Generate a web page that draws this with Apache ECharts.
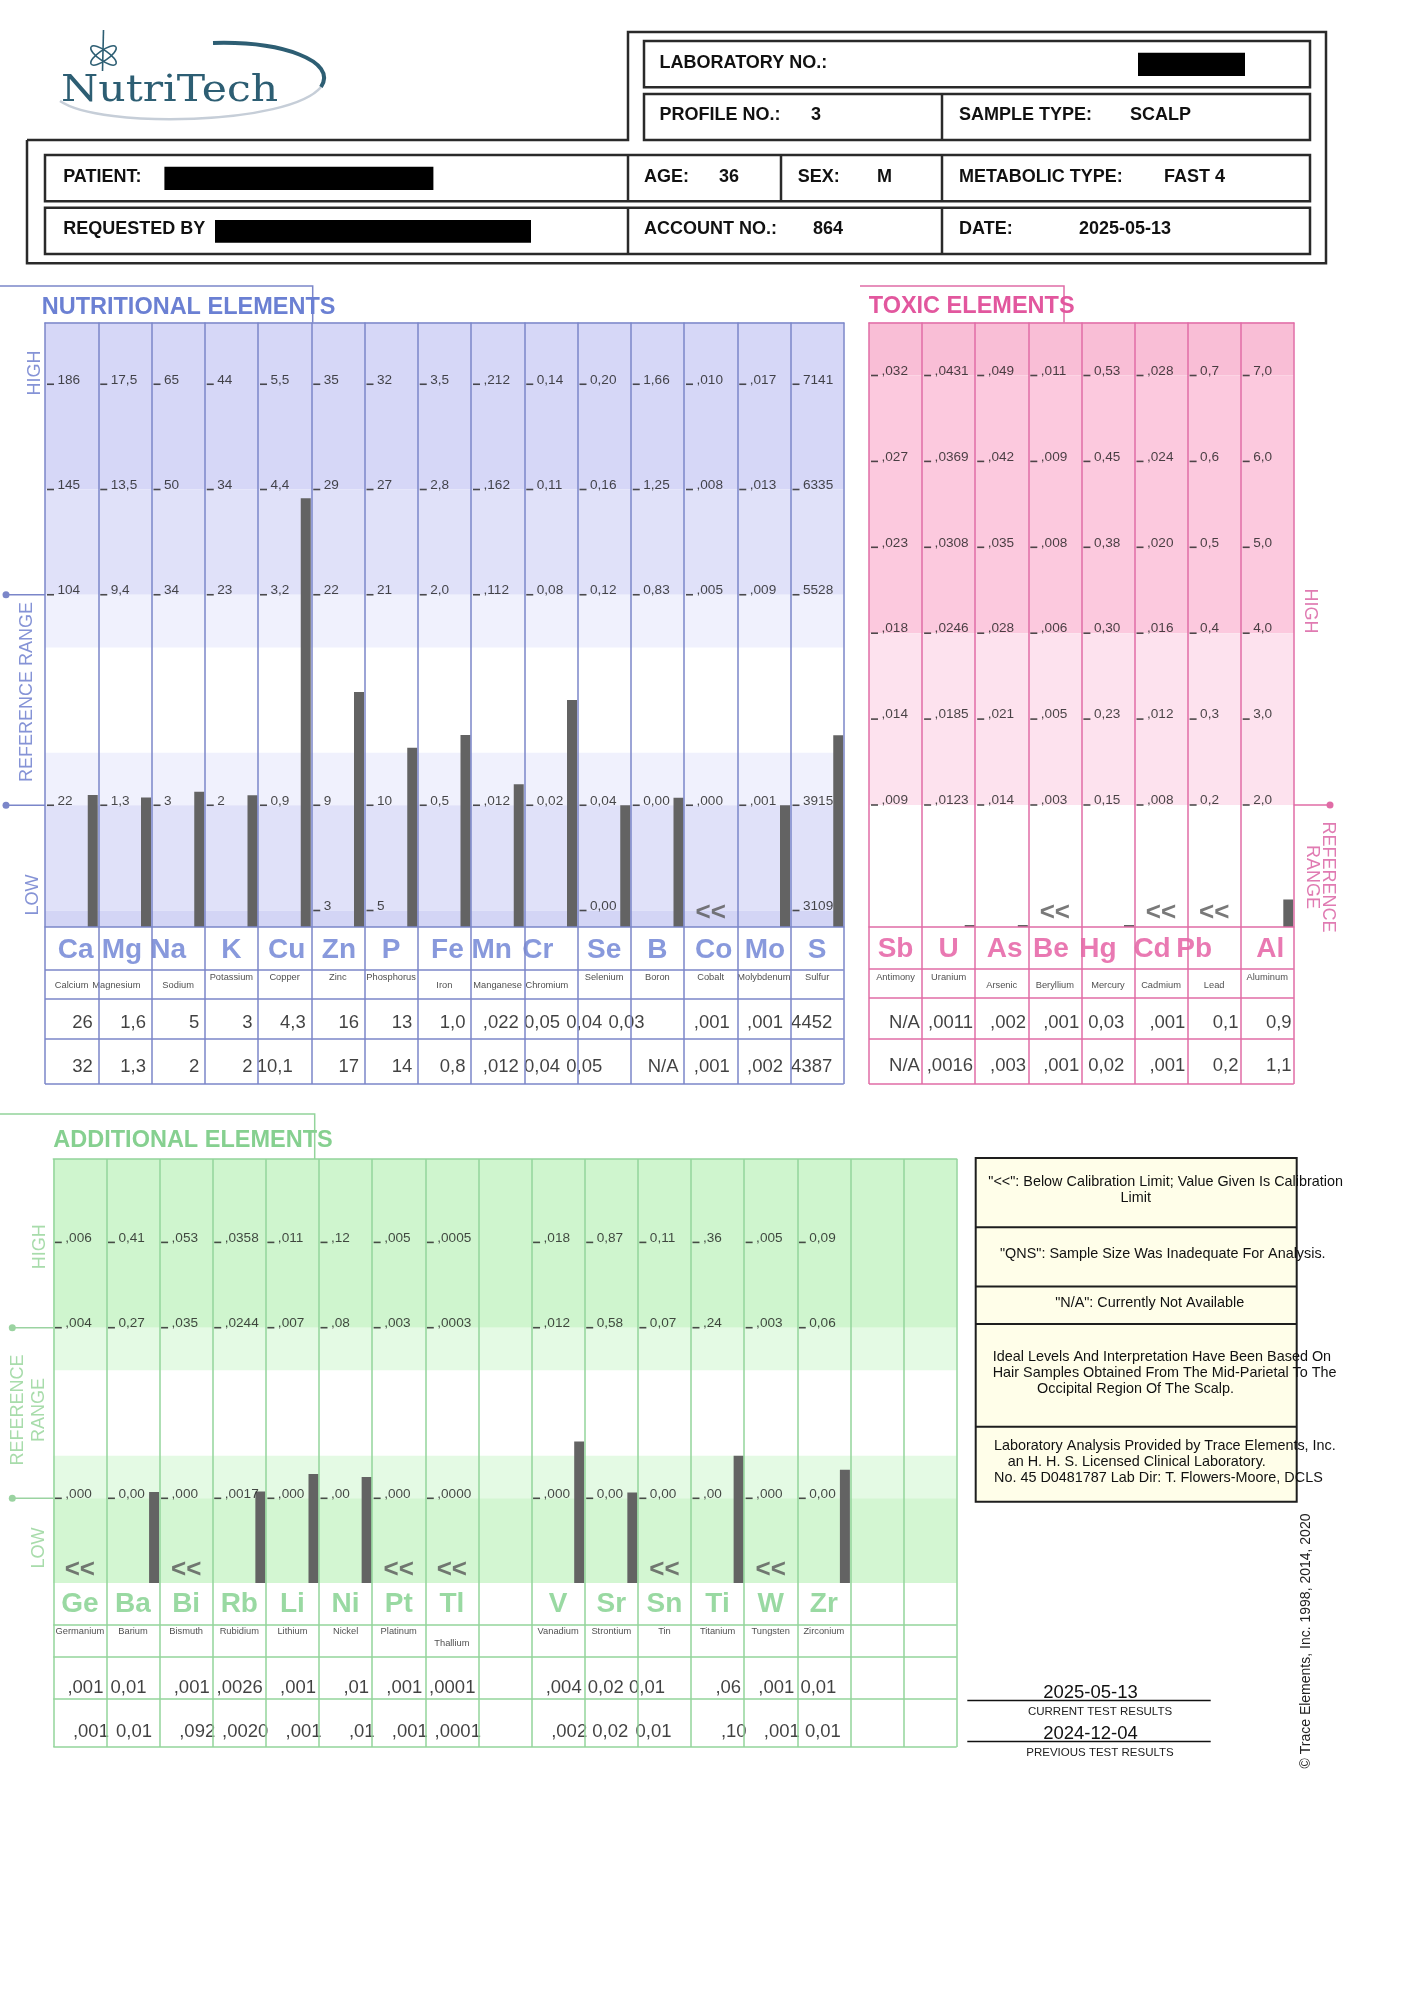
<!DOCTYPE html>
<html>
<head>
<meta charset="utf-8">
<title>Hair Tissue Mineral Analysis</title>
<script src="https://cdn.jsdelivr.net/npm/echarts@6.0.0/dist/echarts.min.js"></script>
<style>
html,body{margin:0;padding:0;background:#ffffff;}
#chart{width:1414px;height:2000px;}
</style>
</head>
<body>
<div id="chart"></div>
<script>
// ================= DATA =================
// Header
const profileNo = '3', sampleType = 'SCALP', patientAge = '36', patientSex = 'M';
const metabolicType = 'FAST 4', accountNo = '864', reportDate = '2025-05-13';
const currentTestDate = '2025-05-13', previousTestDate = '2024-12-04';

// Nutritional elements (tick labels from the lowest graph line to the highest)
const nutriSymbols = ['Ca','Mg','Na','K','Cu','Zn','P','Fe','Mn','Cr','Se','B','Co','Mo','S'];
const nutriNames = ['Calcium','Magnesium','Sodium','Potassium','Copper','Zinc','Phosphorus','Iron','Manganese','Chromium','Selenium','Boron','Cobalt','Molybdenum','Sulfur'];
const nutriTicks = [
  ['', '22', '', '104', '145', '186'],
  ['', '1,3', '', '9,4', '13,5', '17,5'],
  ['', '3', '', '34', '50', '65'],
  ['', '2', '', '23', '34', '44'],
  ['', '0,9', '', '3,2', '4,4', '5,5'],
  ['3', '9', '', '22', '29', '35'],
  ['5', '10', '', '21', '27', '32'],
  ['', '0,5', '', '2,0', '2,8', '3,5'],
  ['', ',012', '', ',112', ',162', ',212'],
  ['', '0,02', '', '0,08', '0,11', '0,14'],
  ['0,00', '0,04', '', '0,12', '0,16', '0,20'],
  ['', '0,00', '', '0,83', '1,25', '1,66'],
  ['', ',000', '', ',005', ',008', ',010'],
  ['', ',001', '', ',009', ',013', ',017'],
  ['3109', '3915', '', '5528', '6335', '7141']
];
const nutriCurrent = ['26','1,6','5','3','4,3','16','13','1,0',',022','0,05','0,04','0,03',',001',',001','4452'];
const nutriPrevious = ['32','1,3','2','2','10,1','17','14','0,8',',012','0,04','0,05','N/A',',001',',002','4387'];
const nutriBelowLimit = ['Co'];

// Toxic elements
const toxicSymbols = ['Sb','U','As','Be','Hg','Cd','Pb','Al'];
const toxicNames = ['Antimony','Uranium','Arsenic','Beryllium','Mercury','Cadmium','Lead','Aluminum'];
const toxicTicks = [
  [',009', ',014', ',018', ',023', ',027', ',032'],
  [',0123', ',0185', ',0246', ',0308', ',0369', ',0431'],
  [',014', ',021', ',028', ',035', ',042', ',049'],
  [',003', ',005', ',006', ',008', ',009', ',011'],
  ['0,15', '0,23', '0,30', '0,38', '0,45', '0,53'],
  [',008', ',012', ',016', ',020', ',024', ',028'],
  ['0,2', '0,3', '0,4', '0,5', '0,6', '0,7'],
  ['2,0', '3,0', '4,0', '5,0', '6,0', '7,0']
];
const toxicCurrent = ['N/A',',0011',',002',',001','0,03',',001','0,1','0,9'];
const toxicPrevious = ['N/A',',0016',',003',',001','0,02',',001','0,2','1,1'];
const toxicBelowLimit = ['Be','Cd','Pb'];

// Additional elements
const addSymbols = ['Ge','Ba','Bi','Rb','Li','Ni','Pt','Tl','','V','Sr','Sn','Ti','W','Zr','',''];
const addNames = ['Germanium','Barium','Bismuth','Rubidium','Lithium','Nickel','Platinum','Thallium','','Vanadium','Strontium','Tin','Titanium','Tungsten','Zirconium','',''];
const addTicks = [
  [',000', '', ',004', ',006'],
  ['0,00', '', '0,27', '0,41'],
  [',000', '', ',035', ',053'],
  [',0017', '', ',0244', ',0358'],
  [',000', '', ',007', ',011'],
  [',00', '', ',08', ',12'],
  [',000', '', ',003', ',005'],
  [',0000', '', ',0003', ',0005'],
  ['', '', '', ''],
  [',000', '', ',012', ',018'],
  ['0,00', '', '0,58', '0,87'],
  ['0,00', '', '0,07', '0,11'],
  [',00', '', ',24', ',36'],
  [',000', '', ',003', ',005'],
  ['0,00', '', '0,06', '0,09'],
  ['', '', '', ''],
  ['', '', '', '']
];
const addCurrent = [',001','0,01',',001',',0026',',001',',01',',001',',0001','',',004','0,02','0,01',',06',',001','0,01','',''];
const addPrevious = [',001','0,01',',092',',0020',',001',',01',',001',',0001','',',002','0,02','0,01',',10',',001','0,01','',''];
const addBelowLimit = ['Ge','Bi','Pt','Tl','Sn','W'];

// ================= LAYOUT / STYLE =================
const SANS = '"Liberation Sans", Arial, Helvetica, sans-serif';
const font = (size, weight) => (weight ? weight + ' ' : '') + size + 'px ' + SANS;

function num(s) { return s ? parseFloat(String(s).replace(',', '.')) : NaN; }
function levelOf(ticks, v) {
  const pts = [];
  ticks.forEach((t, k) => { if (t !== '') pts.push([k, num(t)]); });
  let a = pts[0], b = pts[1];
  for (let j = 0; j < pts.length - 1; j++) { if (v >= pts[j][1]) { a = pts[j]; b = pts[j + 1]; } }
  return a[0] + (v - a[1]) / (b[1] - a[1]) * (b[0] - a[0]);
}

const NUT = {
  left: 45, top: 322.6, colW: 53.25, plotH: 604.4, base: 16.5, step: 105.25, tableH: 157,
  line: '#7b86c9', sym: '#6a80d3', tableTopLine: true,
  bands: [[4, 'top', '#d6d7f7'], [3, 4, '#e0e1f9'], [2.5, 3, '#f0f1fd'], [1, 1.5, '#f0f1fd'], [0, 1, '#e0e1f9'], ['bot', 0, '#d3d5f5']],
  tableLines: [42.3, 71.3, 111.3, 157], symY: 23, nameY: [50.7, 58.7], curY: 96.3, prevY: 139.7,
  padCur: 5.5, padPrev: 5.5, tickDx: 5.5, lowMarkY: 14,
  symDx: [4, -3, -10, 0, 2, 1, 0, 3, -6, -13, 0, 0, 3, 1, 0],
  nameDx: [0, -8.5, 0, 0, 0, 0, 0, 0, 0, -4, 0, 0, 0, 0, 0],
  nameLow: [1, 1, 1, 0, 0, 0, 0, 1, 1, 1, 0, 0, 0, 0, 0],
  curDx: [0, 0, 0, 0, 0, 0, 0, 0, 0, -12, -23, -34, -2, -2, -6],
  prevDx: [0, 0, 0, 0, -13, 0, 0, 0, 0, -12, -23, 0, -2, -2, -6]
};
const TOX = {
  left: 869, top: 322.6, colW: 53.1, plotH: 604.4, base: 122, step: 85.9, tableH: 157,
  line: '#e06ca6', sym: '#e3579f', tableTopLine: true,
  bands: [[5, 'top', '#f9bed6'], [2, 5, '#fcc9de'], [0, 2, '#fde2ee']],
  tableLines: [42.2, 71, 111.4, 157], symY: 22.4, nameY: [50.2, 58.6], curY: 95.7, prevY: 139.2,
  padCur: 2.2, padPrev: 2.2, tickDx: 5.5, lowMarkY: 14,
  symDx: [0, 0, 3, -4, -10, -9, -20, 3],
  nameDx: [0, 0, 0, 0, 0, 0, 0, 0],
  nameLow: [0, 0, 1, 1, 1, 1, 1, 0],
  curDx: [0, 0, 0, 0, -8, 0, 0, 0],
  prevDx: [0, 0, 0, 0, -8, 0, 0, 0]
};
const ADD = {
  left: 53.3, top: 1159, colW: 53.14, plotH: 424, base: 84.7, step: 85.3, tableH: 164,
  line: '#93d49b', sym: '#80cf8b', tableTopLine: false,
  bands: [[2, 'top', '#cff5ce'], [1.5, 2, '#e4fae4'], [0, 0.5, '#e4fae4'], ['bot', 0, '#d3f6d2']],
  tableLines: [42, 73.4, 115.5, 164], symY: 21, nameY: [48, 60], curY: 105, prevY: 148.5,
  padCur: 3, padPrev: -2.5, tickDx: 5, lowMarkY: 13,
  symDx: new Array(17).fill(0),
  nameDx: new Array(17).fill(0),
  nameLow: [0, 0, 0, 0, 0, 0, 0, 1, 0, 0, 0, 0, 0, 0, 0, 0, 0],
  curDx: [0, -10, 0, 0, 0, 0, 0, 0, 0, 0, -11, -23, 0, 0, -11, 0, 0],
  prevDx: [0, -10, 0, 0, 0, 0, 0, 0, 0, 0, -12, -22, 0, 0, -12, 0, 0]
};

const grids = [], xAxes = [], yAxes = [], series = [];

function addSection(cfg, d) {
  const n = d.symbols.length;
  const W = cfg.colW * n;
  const gi = grids.length;
  const px = k => cfg.base + k * cfg.step;
  const bandY = v => v === 'top' ? cfg.plotH : (v === 'bot' ? 0 : px(v));
  const ls = { color: cfg.line, width: 1.5 };
  const gb = { containLabel: false, outerBoundsMode: 'none', show: false };
  grids.push(Object.assign({ left: cfg.left, top: cfg.top, width: W, height: cfg.plotH }, gb));
  grids.push(Object.assign({ left: cfg.left, top: cfg.top + cfg.plotH, width: W, height: cfg.tableH }, gb));
  [0, 1].forEach(j => {
    xAxes.push({
      type: 'value', gridIndex: gi + j, min: 0, max: n, interval: 1, position: 'top', z: 4,
      axisLine: { show: j === 0 || cfg.tableTopLine, onZero: false, lineStyle: ls },
      axisTick: { show: false }, axisLabel: { show: false },
      splitLine: { show: true, lineStyle: ls }
    });
  });
  yAxes.push({ type: 'value', gridIndex: gi, min: 0, max: cfg.plotH, show: false, splitLine: { show: false } });
  yAxes.push({ type: 'value', gridIndex: gi + 1, min: 0, max: cfg.tableH, inverse: true, show: false, splitLine: { show: false } });

  // Tick marks + tick labels, plus background bands
  const tickData = [];
  d.ticks.forEach((col, i) => col.forEach((t, k) => {
    if (t !== '') tickData.push({ name: t, value: [i + cfg.tickDx / cfg.colW, px(k)] });
  }));
  series.push({
    type: 'scatter', xAxisIndex: gi, yAxisIndex: gi, z: 3, silent: true,
    symbol: 'rect', symbolSize: [7, 1.6], itemStyle: { color: '#222222' },
    label: { show: true, position: 'right', distance: 3.5, offset: [0, -4.5], formatter: '{b}', fontSize: 13.6, fontFamily: SANS, color: '#1a1a1a' },
    data: tickData,
    markArea: {
      silent: true, label: { show: false },
      data: cfg.bands.map(b => [{ yAxis: bandY(b[0]), itemStyle: { color: b[2] } }, { yAxis: bandY(b[1]) }])
    }
  });

  // Bars for current results
  const barData = [];
  d.current.forEach((s, i) => {
    const v = num(s);
    if (!d.symbols[i] || d.below.indexOf(d.symbols[i]) >= 0 || isNaN(v)) return;
    const h = Math.max(2, Math.min(cfg.plotH, px(levelOf(d.ticks[i], v))));
    barData.push([i + 1 - 5.5 / cfg.colW, h]);
  });
  series.push({ type: 'bar', xAxisIndex: gi, yAxisIndex: gi, z: 2, silent: true, barWidth: 10, itemStyle: { color: '#636363' }, data: barData });

  // Below calibration markers
  series.push({
    type: 'scatter', xAxisIndex: gi, yAxisIndex: gi, z: 3, silent: true, symbolSize: 0,
    label: { show: true, position: 'inside', formatter: '<<', fontSize: 26, fontWeight: 'bold', fontFamily: SANS, color: '#585858' },
    data: d.symbols.map((s, i) => (s && d.below.indexOf(s) >= 0) ? [i + 0.5, cfg.lowMarkY] : null).filter(Boolean)
  });

  // Table: symbols (with row lines)
  const tx = (i, dx) => i + 0.5 + (dx || 0) / cfg.colW;
  series.push({
    type: 'scatter', xAxisIndex: gi + 1, yAxisIndex: gi + 1, z: 3, silent: true, symbolSize: 0,
    label: { show: true, position: 'inside', formatter: '{b}', fontSize: 28, fontWeight: 'bold', fontFamily: SANS, color: cfg.sym },
    data: d.symbols.map((s, i) => s ? { name: s, value: [tx(i, cfg.symDx[i]), cfg.symY] } : null).filter(Boolean),
    markLine: {
      silent: true, symbol: ['none', 'none'], label: { show: false },
      lineStyle: { color: cfg.line, width: 1.5, type: 'solid' },
      data: cfg.tableLines.map(y => ({ yAxis: y }))
    }
  });
  // names
  series.push({
    type: 'scatter', xAxisIndex: gi + 1, yAxisIndex: gi + 1, z: 3, silent: true, symbolSize: 0,
    label: { show: true, position: 'inside', formatter: '{b}', fontSize: 9.3, fontFamily: SANS, color: '#222222' },
    data: d.names.map((s, i) => s ? { name: s, value: [tx(i, cfg.nameDx[i]), cfg.nameY[cfg.nameLow[i] ? 1 : 0]] } : null).filter(Boolean)
  });
  // current & previous results
  [[d.current, cfg.curY, cfg.padCur, cfg.curDx], [d.previous, cfg.prevY, cfg.padPrev, cfg.prevDx]].forEach(r => {
    series.push({
      type: 'scatter', xAxisIndex: gi + 1, yAxisIndex: gi + 1, z: 3, silent: true, symbolSize: 0,
      label: { show: true, position: 'inside', align: 'right', formatter: '{b}', fontSize: 18.5, fontFamily: SANS, color: '#111111' },
      data: r[0].map((s, i) => s ? { name: s, value: [i + 1 + (r[3][i] - r[2]) / cfg.colW, r[1]] } : null).filter(Boolean)
    });
  });
}

addSection(NUT, { symbols: nutriSymbols, names: nutriNames, ticks: nutriTicks, current: nutriCurrent, previous: nutriPrevious, below: nutriBelowLimit });
addSection(TOX, { symbols: toxicSymbols, names: toxicNames, ticks: toxicTicks, current: toxicCurrent, previous: toxicPrevious, below: toxicBelowLimit });
addSection(ADD, { symbols: addSymbols, names: addNames, ticks: addTicks, current: addCurrent, previous: addPrevious, below: addBelowLimit });

// ================= GRAPHIC (page furniture) =================
const G = [];
function textEl(text, x, y, f, fill, align, rot) {
  return { type: 'text', x: x, y: y, rotation: rot || 0, silent: true, z: 10,
    style: { text: text, x: 0, y: 0, font: f, fill: fill || '#111111', align: align || 'left', verticalAlign: 'middle', textAlign: align || 'left', textVerticalAlign: 'middle' } };
}
function T(text, x, y, f, fill, align, rot) { G.push(textEl(text, x, y, f, fill, align, rot)); }
function R(x, y, w, h, stroke, fill, lw) {
  G.push({ type: 'rect', silent: true, shape: { x: x, y: y, width: w, height: h }, style: { stroke: stroke || null, fill: fill || null, lineWidth: lw || 2.5 } });
}
function lineEl(x1, y1, x2, y2, stroke, lw) {
  return { type: 'line', silent: true, z: 5, shape: { x1: x1, y1: y1, x2: x2, y2: y2 }, style: { stroke: stroke, lineWidth: lw || 1.5 } };
}
function L(x1, y1, x2, y2, stroke, lw) { G.push(lineEl(x1, y1, x2, y2, stroke, lw)); }
function P(points, stroke, lw) {
  G.push({ type: 'polyline', silent: true, z: 5, shape: { points: points }, style: { stroke: stroke, fill: null, lineWidth: lw || 1.5 } });
}
function bez(x1, y1, c1x, c1y, c2x, c2y, x2, y2, stroke, lw) {
  return { type: 'bezierCurve', silent: true, shape: { x1: x1, y1: y1, cpx1: c1x, cpy1: c1y, cpx2: c2x, cpy2: c2y, x2: x2, y2: y2 }, style: { stroke: stroke, fill: null, lineWidth: lw } };
}
function Dot(x, y, c) { G.push({ type: 'circle', silent: true, shape: { cx: x, cy: y, r: 3.5 }, style: { fill: c } }); }

// Logo (grouped, shifted up)
const teal = '#2d5e73';
const logoText = textEl('NutriTech', 61, 108, '37px "DejaVu Serif", "Liberation Serif", serif', teal, 'left', 0);
logoText.scaleX = 1.15;
G.push({
  type: 'group', x: 0, y: -17, silent: true,
  children: [
    bez(60, 118, 100, 146, 290, 142, 321, 104, '#c6ced8', 2.5),
    bez(213, 60, 282, 58, 338, 78, 321, 104, teal, 4),
    bez(91.2, 63.9, 87.4, 69.4, 112, 86.6, 115.8, 81.1, teal, 1.6),
    bez(91.2, 63.9, 95, 58.4, 119.6, 75.6, 115.8, 81.1, teal, 1.6),
    bez(91.2, 81.1, 95, 86.6, 119.6, 69.4, 115.8, 63.9, teal, 1.6),
    bez(91.2, 81.1, 87.4, 75.6, 112, 58.4, 115.8, 63.9, teal, 1.6),
    lineEl(103.5, 47, 102.5, 88, teal, 1.6),
    logoText
  ]
});

// Header boxes
const frame = '#2a2a2a';
P([[27, 140], [628, 140], [628, 32], [1326, 32], [1326, 263.3], [27, 263.3], [27, 140]], frame, 2.5);
R(644, 41, 666, 46.3, frame); R(644, 94, 666, 46, frame); R(45, 155, 1265, 46.3, frame); R(45, 207.7, 1265, 46.3, frame);
L(942, 94, 942, 140, frame, 2.5); L(628, 155, 628, 201.3, frame, 2.5); L(781, 155, 781, 201.3, frame, 2.5);
L(942, 155, 942, 201.3, frame, 2.5); L(628, 207.7, 628, 254, frame, 2.5); L(942, 207.7, 942, 254, frame, 2.5);
R(1138, 52.7, 107, 23.3, null, '#000000'); R(164.4, 166.7, 269, 23.3, null, '#000000'); R(215, 220, 316, 22.7, null, '#000000');
const hf = font(18, 'bold');
T('LABORATORY NO.:', 659.5, 63.5, hf);
T('PROFILE NO.:', 659.5, 115.5, hf); T(profileNo, 811, 115.5, hf);
T('SAMPLE TYPE:', 959, 115.5, hf); T(sampleType, 1130, 115.5, hf);
T('PATIENT:', 63.2, 177, hf);
T('AGE:', 644, 177, hf); T(patientAge, 719, 177, hf);
T('SEX:', 797.7, 177, hf); T(patientSex, 877, 177, hf);
T('METABOLIC TYPE:', 959, 177, hf); T(metabolicType, 1164, 177, hf);
T('REQUESTED BY', 63.2, 229.5, hf);
T('ACCOUNT NO.:', 644, 229.5, hf); T(accountNo, 813, 229.5, hf);
T('DATE:', 959, 229.5, hf); T(reportDate, 1079, 229.5, hf);

// Section titles and brackets
const tf = font(23.5, 'bold');
T('NUTRITIONAL ELEMENTS', 41.7, 307.5, tf, '#6b80d3');
P([[0, 286], [312.7, 286], [312.7, 322.6]], NUT.line, 1.5);
T('TOXIC ELEMENTS', 868.7, 307, tf, '#e2579e');
P([[860, 286], [1064, 286], [1064, 322.6]], TOX.line, 1.5);
T('ADDITIONAL ELEMENTS', 53.3, 1141, tf, '#86d090');
P([[0, 1114], [314.7, 1114], [314.7, 1159]], ADD.line, 1.5);

// Side labels and reference-range markers
const sf = font(18);
const up = Math.PI / 2, down = -Math.PI / 2;
const nutC = '#8593d6', toxC = '#e07bb2', addC = '#a8dcab';
T('HIGH', 35, 373, sf, nutC, 'center', up);
T('REFERENCE RANGE', 26.7, 692, sf, nutC, 'center', up);
T('LOW', 33, 895, sf, nutC, 'center', up);
const nutY = k => NUT.top + NUT.plotH - (NUT.base + k * NUT.step);
L(6, nutY(3), NUT.left, nutY(3), NUT.line, 1.5); Dot(6, nutY(3), NUT.line);
L(6, nutY(1), NUT.left, nutY(1), NUT.line, 1.5); Dot(6, nutY(1), NUT.line);

T('HIGH', 1310, 611, sf, toxC, 'center', down);
T('REFERENCE', 1328.3, 877, sf, toxC, 'center', down);
T('RANGE', 1311.7, 877, sf, toxC, 'center', down);
const toxY = TOX.top + TOX.plotH - TOX.base;
const toxRight = TOX.left + TOX.colW * toxicSymbols.length;
L(toxRight, toxY, 1330, toxY, TOX.line, 1.5); Dot(1330, toxY, TOX.line);

T('HIGH', 40, 1246.7, sf, addC, 'center', up);
T('REFERENCE', 18.3, 1410, sf, addC, 'center', up);
T('RANGE', 39.3, 1410, sf, addC, 'center', up);
T('LOW', 39.3, 1548, sf, addC, 'center', up);
const addY = k => ADD.top + ADD.plotH - (ADD.base + k * ADD.step);
L(12.3, addY(2), ADD.left, addY(2), '#9bd3a1', 1.5); Dot(12.3, addY(2), '#9bd3a1');
L(12.3, addY(0), ADD.left, addY(0), '#9bd3a1', 1.5); Dot(12.3, addY(0), '#9bd3a1');

// Legend box
R(975.7, 1158, 321, 343.8, '#1e1e1e', '#fffee9', 2);
[1227.2, 1286.6, 1324.1, 1426.8].forEach(y => L(975.7, y, 1296.7, y, '#1e1e1e', 2));
const lf = font(14.4);
T('"<<": Below Calibration Limit; Value Given Is Calibration', 988.3, 1181.7, lf);
T('Limit', 1135.7, 1198.2, lf, '#111111', 'center');
T('"QNS": Sample Size Was Inadequate For Analysis.', 1000, 1254, lf);
T('"N/A": Currently Not Available', 1149.7, 1303, lf, '#111111', 'center');
T('Ideal Levels And Interpretation Have Been Based On', 992.7, 1356.7, lf);
T('Hair Samples Obtained From The Mid-Parietal To The', 992.7, 1372.8, lf);
T('Occipital Region Of The Scalp.', 1135.5, 1389.3, lf, '#111111', 'center');
T('Laboratory Analysis Provided by Trace Elements, Inc.', 994, 1446, lf);
T('an H. H. S. Licensed Clinical Laboratory.', 1007.7, 1461.6, lf);
T('No. 45 D0481787 Lab Dir: T. Flowers-Moore, DCLS', 994, 1478, lf);

// Test dates
T(currentTestDate, 1090.5, 1692.5, font(18.5), '#111111', 'center');
L(967.3, 1700.4, 1210.7, 1700.4, '#111111', 1.5);
T('CURRENT TEST RESULTS', 1100, 1711.6, font(11.5), '#222222', 'center');
T(previousTestDate, 1090.5, 1734, font(18.5), '#111111', 'center');
L(967.3, 1741.5, 1210.7, 1741.5, '#111111', 1.5);
T('PREVIOUS TEST RESULTS', 1100, 1752.7, font(11.5), '#222222', 'center');

// Copyright
T('\u00A9 Trace Elements, Inc. 1998, 2014, 2020', 1305.7, 1641, font(14), '#222222', 'center', up);

// ================= CHART =================
const chart = echarts.init(document.getElementById('chart'), null, { renderer: 'canvas', width: 1414, height: 2000 });
chart.setOption({
  animation: false,
  backgroundColor: '#ffffff',
  grid: grids,
  xAxis: xAxes,
  yAxis: yAxes,
  series: series,
  graphic: { elements: G }
});
</script>
</body>
</html>
